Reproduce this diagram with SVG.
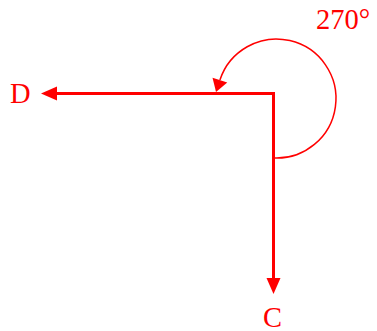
<svg xmlns="http://www.w3.org/2000/svg" width="377" height="331" viewBox="0 0 377 331">
<style>
.lbl{font-family:"Liberation Serif","Times New Roman",serif;font-size:28.5px;fill:#FF0000}
.vec{fill:none;stroke:#FF0000;stroke-width:3;stroke-linecap:square}
.arc{fill:none;stroke:#FF0000;stroke-width:1.5}
</style>
<defs>
<marker id="head" markerUnits="userSpaceOnUse" markerWidth="16" markerHeight="14" refX="0" refY="7" orient="auto" overflow="visible">
<path d="M0,0 L16,7 L0,14 Z" fill="#FF0000"/>
</marker>
<marker id="arcHead" markerUnits="userSpaceOnUse" markerWidth="13" markerHeight="16" refX="0" refY="7.75" orient="auto" overflow="visible">
<path d="M0,0 L12.5,7.75 L0,15.5 Z" fill="#FF0000"/>
</marker>
</defs>
<g id="connectors">
<path class="vec" d="M273.5,93.5 H57" marker-end="url(#head)"/>
<path class="vec" d="M273.5,93.5 V278" marker-end="url(#head)"/>
<path class="arc" d="M273.5,158 A59.5,59.5 0 1 0 219.9,80.1" marker-end="url(#arcHead)"/>
</g>
<g id="node-D"><text class="lbl" x="10" y="102.5">D</text></g>
<g id="node-C"><text class="lbl" x="272.5" y="326.5" text-anchor="middle">C</text></g>
<g id="angle-label"><text class="lbl" x="316" y="29">270°</text></g>
</svg>
